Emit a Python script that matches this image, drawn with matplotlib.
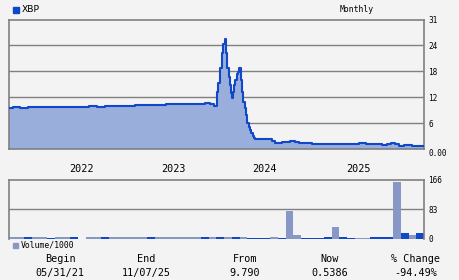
import matplotlib
matplotlib.use("Agg")
import matplotlib.pyplot as plt

# ---- data (x = months since 2021-06-01) ----
price_t = [0.0, 0.52, 1.43, 2.47, 10.42, 11.46, 12.5, 16.41, 20.44, 25.52, 26.17, 26.69,
           27.04, 27.25, 27.47, 27.7, 27.9, 28.06, 28.26, 28.42, 28.65, 28.78, 28.91, 29.04,
           29.17, 29.3, 29.47, 29.65, 29.82, 29.95, 30.17, 30.34, 30.51, 30.69, 30.86, 31.03,
           31.21, 31.38, 31.55, 31.73, 31.9, 32.03, 34.21, 34.64, 35.51, 36.5, 37.24, 37.67,
           39.41, 45.48, 46.48, 48.53, 49.18, 49.7, 50.26, 50.69, 51.34, 52.43, 52.86, 54.0]
price_v = [9.8, 10.1, 9.8, 10.0, 10.3, 10.0, 10.2, 10.5, 10.8, 11.0, 10.8, 10.3,
           13.7, 15.8, 19.4, 23.0, 25.1, 26.3, 23.0, 19.4, 17.3, 15.3, 13.3, 12.1,
           13.7, 15.3, 16.5, 17.9, 18.5, 19.3, 16.5, 13.7, 11.3, 9.7, 8.1, 6.3,
           5.3, 4.5, 3.8, 3.1, 2.6, 2.3, 2.0, 1.5, 1.75, 2.0, 1.75, 1.5,
           1.2, 1.45, 1.2, 0.96, 1.2, 1.45, 1.2, 0.72, 0.96, 0.72, 0.6, 0.6]

volume = [5, 5, 5, 5, 5, 4, 5, 5, 5, 1, 5, 5, 5, 5, 5, 5, 5, 5, 5, 5,
          5, 5, 5, 5, 5, 5, 5, 5, 5, 5, 5, 4, 4, 4, 5, 4, 79, 11, 4, 4,
          4, 6, 34, 5, 4, 3, 2, 5, 5, 5, 160, 17, 11, 17]
vol_dark = [0, 0, 1, 0, 0, 1, 0, 0, 1, 0, 0, 0, 1, 0, 0, 0, 0, 0, 1, 0,
            0, 0, 0, 0, 0, 1, 0, 1, 0, 1, 0, 1, 1, 1, 0, 1, 0, 0, 1, 1,
            1, 1, 0, 1, 1, 0, 0, 1, 1, 1, 0, 1, 0, 1]

year_labels = ["2022", "2023", "2024", "2025"]
year_pos = [9.46, 21.4, 33.3, 45.5]

price_max = 31
vol_max = 166

ticker = "XBP"
stats_head = ["Begin", "End", "From", "Now", "% Change"]
stats_val = ["05/31/21", "11/07/25", "9.790", "0.5386", "-94.49%"]

# ---- style ----
BG = "#f3f3f3"
DARK = "#1148c8"
FILL = "#9aaedc"
LIGHT = "#8898c6"
GRID = "#808080"
MONO = "DejaVu Sans Mono"

W, H = 460, 280
fig = plt.figure(figsize=(W / 100, H / 100), dpi=100, facecolor=BG)


def fx(px):
    return px / W


def fy(py):
    return 1 - py / H


# price axes
ax = fig.add_axes([fx(9), fy(149), fx(424) - fx(9), fy(19.5) - fy(149)], facecolor=BG)
ax.fill_between(price_t, price_v, step="post", color=FILL, linewidth=0, zorder=2)
ax.step(price_t, price_v, where="post", color=DARK, linewidth=1.5, zorder=3)
ax.set_xlim(0, 54)
ax.set_ylim(0, price_max)
pt = [price_max * k / 5 for k in range(6)]
ax.set_yticks(pt)
ax.set_yticklabels(["0.00"] + [str(int(v)) for v in pt[1:]], fontsize=5.6, family=MONO)
ax.yaxis.tick_right()
ax.tick_params(axis="y", length=0, pad=3)
ax.set_xticks(year_pos)
ax.set_xticklabels(year_labels, fontsize=7.3, family=MONO)
ax.tick_params(axis="x", length=0, pad=11)
for v in pt[1:5]:
    ax.axhline(v, color=GRID, linewidth=1.0, zorder=1)
for s in ax.spines.values():
    s.set_color(GRID)
    s.set_linewidth(1.2)
ax.get_yticklabels()[0].set_verticalalignment("top")

# volume axes
av = fig.add_axes([fx(9), fy(239), fx(424) - fx(9), fy(179.5) - fy(239)], facecolor=BG)
xs = [i + 0.5 for i in range(len(volume))]
cols = [DARK if d else LIGHT for d in vol_dark]
av.bar(xs, volume, width=1.0, color=cols, linewidth=0, zorder=2)
av.set_xlim(0, 54)
av.set_ylim(0, vol_max)
av.set_yticks([0, vol_max / 2, vol_max])
av.set_yticklabels(["0", "83", "166"], fontsize=5.6, family=MONO)
av.yaxis.tick_right()
av.tick_params(axis="y", length=0, pad=3)
av.set_xticks([])
av.axhline(vol_max / 2, color=GRID, linewidth=1.0, zorder=1)
for s in av.spines.values():
    s.set_color(GRID)
    s.set_linewidth(1.2)
av.spines["bottom"].set_visible(False)

# legends / titles
fig.patches.append(plt.Rectangle((fx(13), fy(13)), fx(6), fy(7) - fy(13), transform=fig.transFigure,
                                 color=DARK, figure=fig))
fig.text(fx(22), fy(9.5), ticker, fontsize=6.6, family="DejaVu Sans", va="center", ha="left")
fig.text(fx(357), fy(9.5), "Monthly", fontsize=5.9, family=MONO, va="center", ha="center")
fig.patches.append(plt.Rectangle((fx(13), fy(248)), fx(5), fy(243) - fy(248), transform=fig.transFigure,
                                 color=LIGHT, figure=fig))
fig.text(fx(20.5), fy(245.5), "Volume/1000", fontsize=5.9, family=MONO, va="center", ha="left")

centers = [60, 146.5, 245, 330, 416]
for cx, h, v in zip(centers, stats_head, stats_val):
    fig.text(fx(cx), fy(259), h, fontsize=7.3, family=MONO, ha="center", va="center")
    fig.text(fx(cx), fy(273), v, fontsize=7.3, family=MONO, ha="center", va="center")

fig.savefig("out.png", dpi=100, facecolor=BG)
